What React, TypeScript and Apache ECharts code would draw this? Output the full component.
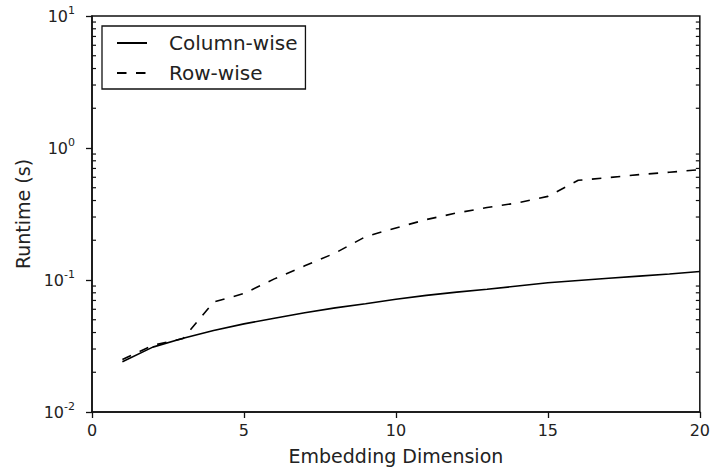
import React, { useEffect, useRef } from "react";
import * as echarts from "echarts";

// Embedding dimensions tested
const dims = [1, 2, 3, 4, 5, 6, 7, 8, 9, 10, 11, 12, 13, 14, 15, 16, 17, 18, 19, 20];

// Measured runtimes (seconds)
const columnWise = [
  0.024, 0.031, 0.0362, 0.0415, 0.0465, 0.0513, 0.0565, 0.0615, 0.066, 0.0715,
  0.0765, 0.081, 0.085, 0.09, 0.0952, 0.099, 0.103, 0.107, 0.111, 0.116,
];
const rowWise = [
  0.025, 0.032, 0.036, 0.068, 0.079, 0.102, 0.128, 0.16, 0.213, 0.248,
  0.287, 0.322, 0.354, 0.384, 0.43, 0.569, 0.597, 0.628, 0.655, 0.685,
];

const xTicks = [0, 5, 10, 15, 20];
const yMajor = [0.01, 0.1, 1, 10];
const yMinor = [
  0.02, 0.03, 0.04, 0.05, 0.06, 0.07, 0.08, 0.09,
  0.2, 0.3, 0.4, 0.5, 0.6, 0.7, 0.8, 0.9,
  2, 3, 4, 5, 6, 7, 8, 9,
];

const FONT = "DejaVu Sans";
const INK = "#111";
const MINOR_LEN = 4;

function expLabel(v: number): string {
  const e = Math.round(Math.log10(v));
  return `{b|10}{s|${e}}`;
}

export default function App() {
  const ref = useRef<HTMLDivElement>(null);

  useEffect(() => {
    if (!ref.current) return;
    const chart = echarts.init(ref.current, null, { renderer: "svg" });

    const xMin = xTicks[0];
    const xMax = xTicks[xTicks.length - 1];

    chart.setOption({
      animation: false,
      backgroundColor: "#fff",
      textStyle: { fontFamily: FONT },
      grid: {
        left: 92,
        right: 11,
        top: 16,
        bottom: 57,
        show: true,
        borderColor: INK,
        borderWidth: 1.5,
        backgroundColor: "transparent",
      },
      legend: {
        orient: "vertical",
        left: 102,
        top: 26,
        width: 202,
        padding: [7, 8, 6, 14],
        itemWidth: 30,
        itemHeight: 14,
        itemGap: 10,
        borderColor: INK,
        borderWidth: 1.3,
        borderRadius: 0,
        backgroundColor: "#fff",
        itemStyle: { opacity: 0 },
        textStyle: {
          fontFamily: FONT,
          fontSize: 20,
          color: "#222",
          padding: [0, 0, 0, 17],
        },
        data: ["Column-wise", "Row-wise"],
      },
      xAxis: {
        type: "value",
        min: xMin,
        max: xMax,
        interval: 5,
        name: "Embedding Dimension",
        nameLocation: "middle",
        nameGap: 34,
        nameTextStyle: { fontFamily: FONT, fontSize: 19, color: "#222" },
        axisLine: { show: true, onZero: false, lineStyle: { color: INK, width: 1.5 } },
        axisTick: { show: true, inside: false, length: 6, lineStyle: { color: INK, width: 1.3 } },
        axisLabel: { fontFamily: FONT, fontSize: 16, color: "#222", margin: 10 },
        splitLine: { show: false },
      },
      yAxis: {
        type: "log",
        logBase: 10,
        min: yMajor[0],
        max: yMajor[yMajor.length - 1],
        position: "left",
        name: "Runtime (s)",
        nameLocation: "middle",
        nameGap: 59,
        nameTextStyle: { fontFamily: FONT, fontSize: 19, color: "#222" },
        axisLine: { show: true, lineStyle: { color: INK, width: 1.5 } },
        axisTick: { show: true, inside: false, length: 6, lineStyle: { color: INK, width: 1.3 } },
        splitLine: { show: false },
        axisLabel: {
          margin: 17,
          formatter: (v: number) => expLabel(v),
          rich: {
            b: { fontFamily: FONT, fontSize: 16, color: "#222" },
            s: { fontFamily: FONT, fontSize: 11, color: "#222", padding: [0, 0, 12, 0] },
          },
        },
      },
      series: [
        {
          name: "Column-wise",
          type: "line",
          data: dims.map((d, i) => [d, columnWise[i]]),
          symbol: "none",
          lineStyle: { color: "#000", width: 1.6, type: "solid" },
          itemStyle: { color: "#000" },
        },
        {
          name: "Row-wise",
          type: "line",
          data: dims.map((d, i) => [d, rowWise[i]]),
          symbol: "none",
          lineStyle: { color: "#000", width: 1.6, type: [9.5, 9.5] },
          itemStyle: { color: "#000" },
        },
        {
          // inward minor ticks on the left and right frame edges of the log axis
          name: "minorTicks",
          type: "custom",
          silent: true,
          clip: false,
          data: yMinor.map((v) => [xMin, v]),
          renderItem: (_params: any, api: any) => {
            const v = api.value(1);
            const l = api.coord([xMin, v]);
            const r = api.coord([xMax, v]);
            const style = { stroke: INK, lineWidth: 1.2 };
            return {
              type: "group",
              children: [
                {
                  type: "line",
                  shape: { x1: l[0], y1: l[1], x2: l[0] + MINOR_LEN, y2: l[1] },
                  style,
                },
                {
                  type: "line",
                  shape: { x1: r[0], y1: r[1], x2: r[0] - MINOR_LEN, y2: r[1] },
                  style,
                },
              ],
            };
          },
        },
      ],
    });

    return () => chart.dispose();
  }, []);

  return (
    <div
      ref={ref}
      style={{ position: "absolute", left: 0, top: 0, width: 713, height: 470 }}
    />
  );
}
